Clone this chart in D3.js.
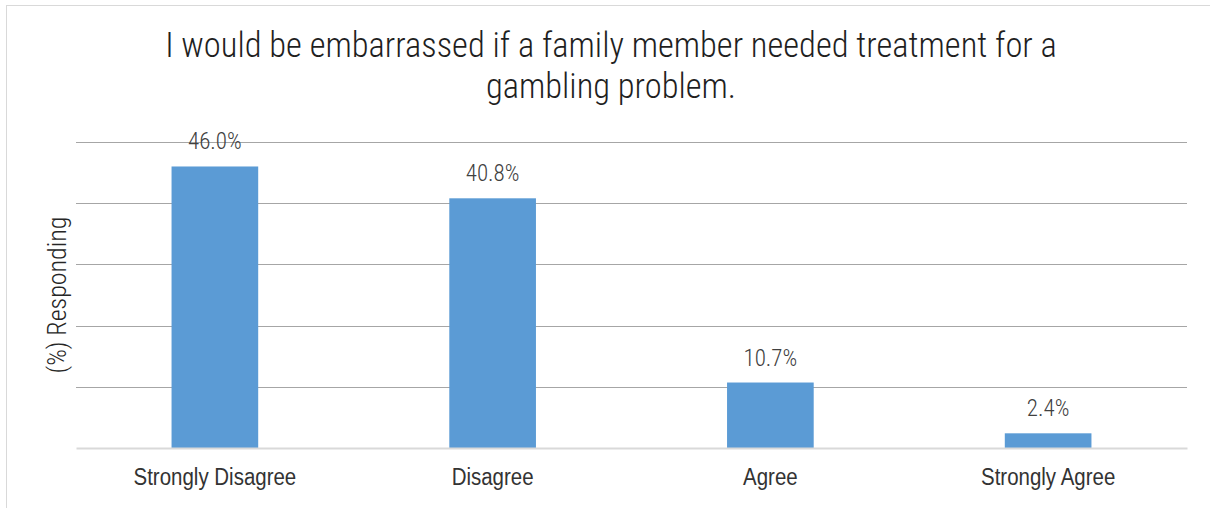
<!DOCTYPE html>
<html>
<head>
<meta charset="utf-8">
<script src="https://cdn.jsdelivr.net/npm/d3@7"></script>
<style>
  body { margin: 0; background: #fff; }
  svg { display: block; font-family: "Roboto Condensed", "Roboto Light", Roboto, sans-serif; font-weight: 300; }
</style>
</head>
<body>
<div id="chart"></div>
<script>
const categories = ["Strongly Disagree", "Disagree", "Agree", "Strongly Agree"];
const values = [46.0, 40.8, 10.7, 2.4];
const yTicks = [0, 10, 20, 30, 40, 50];
const titleLines = ["I would be embarrassed if a family member needed treatment for a", "gambling problem."];

const width = 1210, height = 508;
const plot = { left: 76, right: 1187, top: 142, bottom: 448 };

const svg = d3.select("#chart")
    .append("svg")
    .attr("width", width)
    .attr("height", height);

// squeeze text a little, the original face is narrower
function condense(sel, k) {
    sel.each(function () {
        const w = this.getComputedTextLength();
        d3.select(this)
            .attr("textLength", w * k)
            .attr("lengthAdjust", "spacingAndGlyphs");
    });
}

// chart border
svg.append("rect")
    .attr("x", 6.5).attr("y", 5.5)
    .attr("width", 1230).attr("height", 520)
    .attr("fill", "none")
    .attr("stroke", "#d9d9d9");

const xScale = d3.scaleBand()
    .domain(categories)
    .range([plot.left, plot.right])
    .paddingInner(0.688)
    .paddingOuter(0.344);

const yScale = d3.scaleLinear()
    .domain([0, 50])
    .range([plot.bottom, plot.top]);

// gridlines
svg.append("g")
    .selectAll("line")
    .data(yTicks.filter(d => d > 0))
    .join("line")
    .attr("x1", plot.left).attr("x2", plot.right)
    .attr("y1", d => Math.round(yScale(d)) + 0.5)
    .attr("y2", d => Math.round(yScale(d)) + 0.5)
    .attr("stroke", "#a6a6a6")
    .attr("stroke-width", 1);

// bars
svg.append("g")
    .selectAll("rect")
    .data(values)
    .join("rect")
    .attr("x", (d, i) => xScale(categories[i]))
    .attr("y", d => yScale(d))
    .attr("width", xScale.bandwidth())
    .attr("height", d => yScale(0) - yScale(d))
    .attr("fill", "#5b9bd5");

// x axis
const xAxis = d3.axisBottom(xScale).tickSize(0).tickPadding(21);
const xg = svg.append("g")
    .attr("transform", `translate(0,${plot.bottom})`)
    .call(xAxis);
xg.select(".domain").attr("stroke", "#d9d9d9").attr("stroke-width", 2);
xg.selectAll("text")
    .style("font-family", "inherit")
    .style("font-weight", 300)
    .style("font-size", "23px")
    .attr("fill", "#333")
    .call(condense, 0.89);

// value labels
svg.append("g")
    .selectAll("text")
    .data(values)
    .join("text")
    .attr("x", (d, i) => xScale(categories[i]) + xScale.bandwidth() / 2)
    .attr("y", d => yScale(d) - 17)
    .attr("text-anchor", "middle")
    .style("font-size", "23px")
    .attr("fill", "#404040")
    .text(d => d.toFixed(1) + "%");

// title
svg.append("g")
    .selectAll("text")
    .data(titleLines)
    .join("text")
    .attr("x", 611)
    .attr("y", (d, i) => 57 + i * 41)
    .attr("text-anchor", "middle")
    .style("font-size", "34.5px")
    .attr("fill", "#1f1f1f")
    .text(d => d);

// y axis title
svg.append("text")
    .attr("transform", `translate(66,${(plot.top + plot.bottom) / 2}) rotate(-90)`)
    .attr("text-anchor", "middle")
    .style("font-size", "26px")
    .attr("fill", "#262626")
    .text("(%) Responding");
</script>
</body>
</html>
